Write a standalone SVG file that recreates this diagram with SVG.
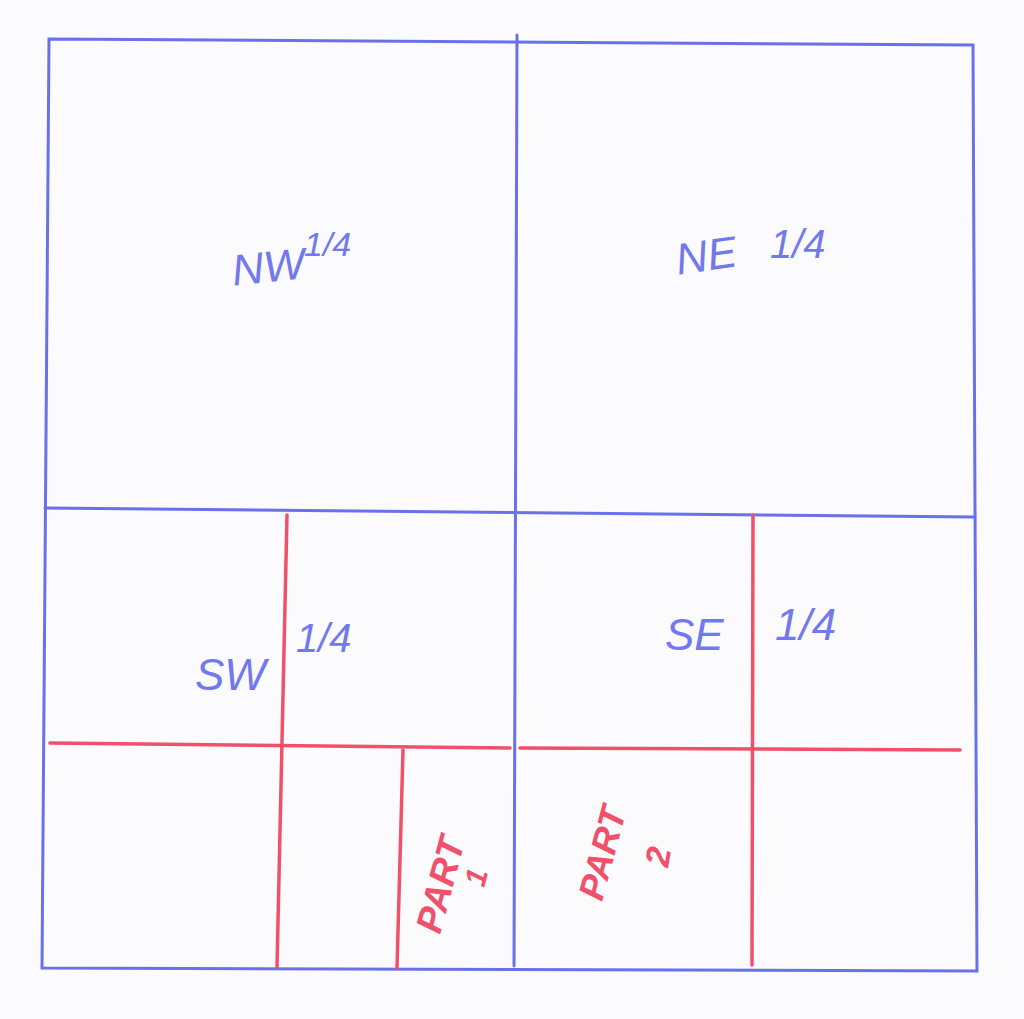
<svg xmlns="http://www.w3.org/2000/svg" width="1024" height="1019" viewBox="0 0 1024 1019">
<style>
.b{stroke:#6a70ea;stroke-width:3;fill:none;stroke-linecap:round}
.r{stroke:#f0506a;stroke-width:3.5;fill:none;stroke-linecap:round}
.tb{fill:#7278ee;font-family:"Liberation Sans",Arial,sans-serif;font-style:italic}
.tr{fill:#f0506a;font-family:"Liberation Sans",Arial,sans-serif;font-style:italic;font-weight:bold}
</style>
<rect width="1024" height="1019" fill="#fbfbfd"/>
<g id="section-lines">
<path class="b" d="M49,39 L973,45 L977,971 L42,968 Z"/>
<path class="b" d="M517,35 L514,966"/>
<path class="b" d="M45,508 L975,517"/>
</g>
<g id="division-lines">
<path class="r" d="M50,743 L510,748"/>
<path class="r" d="M520,748 L960,750"/>
<path class="r" d="M287,515 L277,967"/>
<path class="r" d="M403,750 L397,968"/>
<path class="r" d="M753,515 L752,965"/>
</g>
<g id="nw">
<text class="tb" x="232" y="283" font-size="44" transform="rotate(-6 260 270)">NW</text>
<text class="tb" x="304" y="256" font-size="34">1/4</text>
</g>
<g id="ne">
<text class="tb" x="675" y="270" font-size="44" transform="rotate(-8 710 250)">NE</text>
<text class="tb" x="770" y="258" font-size="40">1/4</text>
</g>
<g id="sw">
<text class="tb" x="195" y="690" font-size="44">SW</text>
<text class="tb" x="296" y="652" font-size="40">1/4</text>
</g>
<g id="se">
<text class="tb" x="665" y="650" font-size="44">SE</text>
<text class="tb" x="775" y="640" font-size="44">1/4</text>
</g>
<g id="part1">
<text class="tr" x="0" y="0" font-size="37" transform="translate(440,935) rotate(-75)">PART</text>
<text class="tr" x="0" y="0" font-size="30" transform="translate(484,888) rotate(-75)">1</text>
</g>
<g id="part2">
<text class="tr" x="0" y="0" font-size="36" transform="translate(602,902) rotate(-75)">PART</text>
<text class="tr" x="0" y="0" font-size="34" transform="translate(668,868) rotate(-80)">2</text>
</g>
</svg>
